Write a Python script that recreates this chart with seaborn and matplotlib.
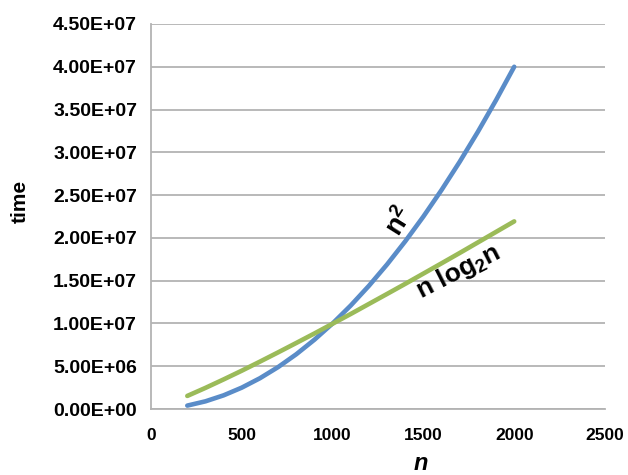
import matplotlib
matplotlib.use("Agg")
import matplotlib.pyplot as plt
import matplotlib.ticker as mticker
import seaborn as sns
import pandas as pd

# Input sizes and measured running times
n_values = [200, 300, 400, 500, 600, 700, 800, 900, 1000, 1100,
            1200, 1300, 1400, 1500, 1600, 1700, 1800, 1900, 2000]
quadratic_time = [4.0e5, 9.0e5, 1.6e6, 2.5e6, 3.6e6, 4.9e6, 6.4e6, 8.1e6, 1.0e7, 1.21e7,
                  1.44e7, 1.69e7, 1.96e7, 2.25e7, 2.56e7, 2.89e7, 3.24e7, 3.61e7, 4.0e7]
nlogn_time = [1.53e6, 2.47e6, 3.46e6, 4.48e6, 5.54e6, 6.62e6, 7.72e6, 8.83e6, 9.97e6, 1.111e7,
              1.228e7, 1.345e7, 1.463e7, 1.583e7, 1.703e7, 1.824e7, 1.947e7, 2.070e7, 2.193e7]

x_ticks = [0, 500, 1000, 1500, 2000, 2500]
y_ticks = [0, 5e6, 1e7, 1.5e7, 2e7, 2.5e7, 3e7, 3.5e7, 4e7, 4.5e7]

sns.set_theme(style="white")
plt.rcParams["font.family"] = ["Liberation Sans", "DejaVu Sans"]
plt.rcParams["mathtext.fontset"] = "custom"
plt.rcParams["mathtext.it"] = "Liberation Sans:bold:italic"
plt.rcParams["mathtext.rm"] = "Liberation Sans:bold"
plt.rcParams["mathtext.bf"] = "Liberation Sans:bold"

df = pd.DataFrame({
    "n": n_values + n_values,
    "time": quadratic_time + nlogn_time,
    "growth": ["n2"] * len(n_values) + ["nlogn"] * len(n_values),
})

fig = plt.figure(figsize=(6.28, 4.75), dpi=100)
ax = fig.add_axes([0.2404, 0.1389, 0.7230, 0.8106])

grid_color = "#b3b3b3"
ax.set_axisbelow(True)
ax.yaxis.grid(True, color=grid_color, linewidth=1.3)
ax.xaxis.grid(False)

sns.lineplot(data=df, x="n", y="time", hue="growth",
             palette={"n2": "#5A8CC8", "nlogn": "#9BBB59"},
             linewidth=3.3, legend=False, ax=ax, solid_capstyle="round")

ax.set_xlim(0, 2500)
ax.set_ylim(0, 4.5e7)
ax.set_xticks(x_ticks)
ax.set_yticks(y_ticks)
ax.yaxis.set_major_formatter(mticker.FuncFormatter(lambda v, _: f"{v:.2E}"))

for side in ("top", "right"):
    ax.spines[side].set_visible(False)
for side in ("left", "bottom"):
    ax.spines[side].set_color(grid_color)
    ax.spines[side].set_linewidth(1.3)

ax.tick_params(axis="both", which="major", direction="out", length=5,
               width=1.3, color=grid_color, pad=6)
ax.tick_params(axis="x", labelsize=12.5, pad=9)
ax.tick_params(axis="y", labelsize=14, pad=5)
for lbl in ax.get_xticklabels() + ax.get_yticklabels():
    lbl.set_fontweight("bold")
    lbl.set_color("black")

ax.set_ylabel("time", fontsize=15, fontweight="bold", color="black")
ax.yaxis.set_label_coords(-0.268, 0.539)
ax.set_xlabel(r"$n$", fontsize=17, color="black")
ax.xaxis.set_label_coords(0.594, -0.113)

ax.text(1372, 2.19e7, r"$\mathrm{n}^\mathrm{2}$", fontsize=19.5, rotation=58,
        ha="center", va="center", color="black")
ax.text(1690, 1.60e7, r"$\mathrm{n\ log}_\mathrm{2}\mathrm{n}$", fontsize=19, rotation=27,
        ha="center", va="center", color="black")

fig.savefig("out.png", dpi=100)
